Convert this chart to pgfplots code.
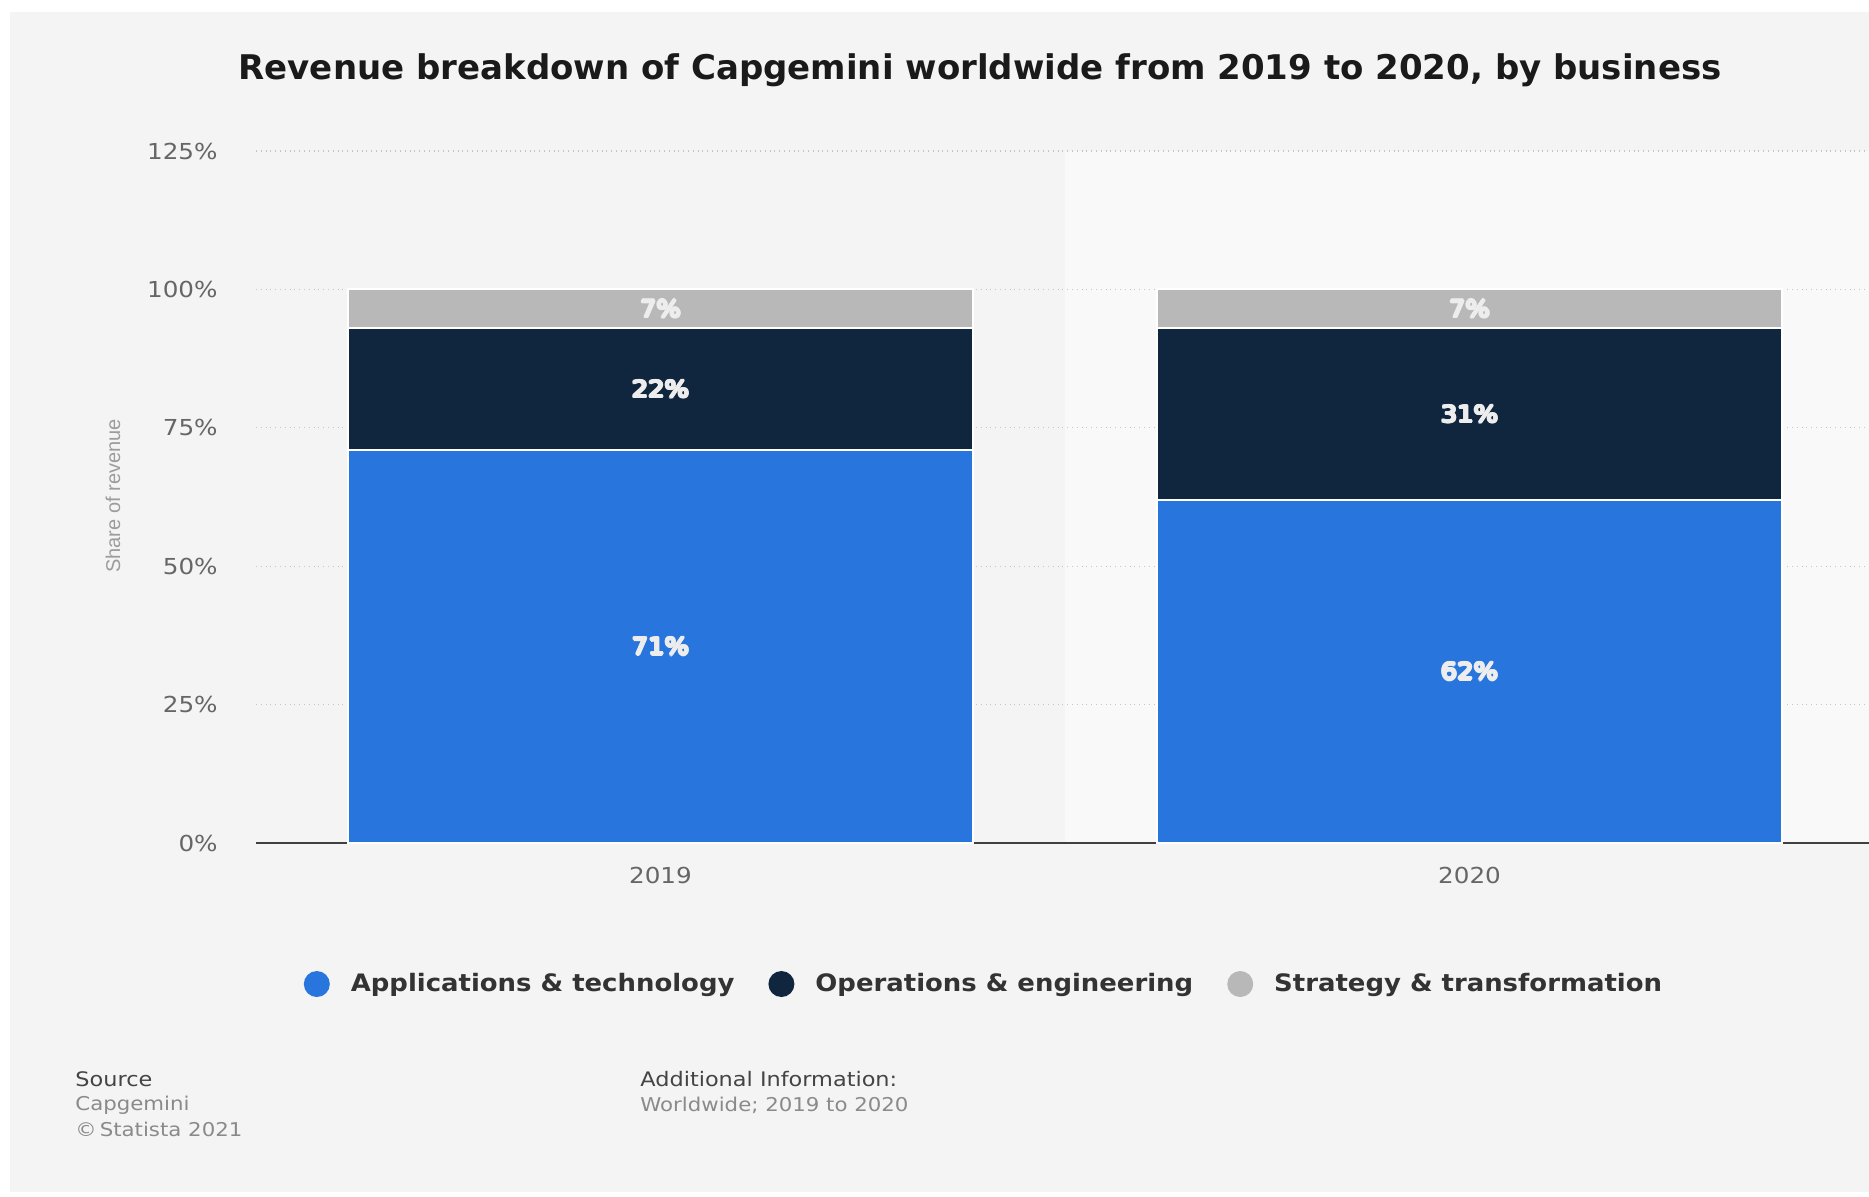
\documentclass[border=0pt]{standalone}
\usepackage{pgfplots}
\pgfplotsset{compat=1.18}
\usepackage{pgfplotstable}
\usepackage{fontspec}
\setmainfont{DejaVu Sans}
\newfontfamily\widefont[FakeStretch=1.12]{DejaVu Sans}
\newfontfamily\legfont[FakeStretch=1.08]{DejaVu Sans}
\newfontfamily\narrowfont{Liberation Sans}

\definecolor{halocol}{HTML}{1E1E1E}
\newsavebox\halobox
\newcommand\hcopy[2]{\rlap{\color{halocol}\kern#1\raisebox{#2}{\usebox\halobox}}}
\newcommand\halo[1]{\sbox\halobox{#1}%
  \hcopy{0.65pt}{0pt}\hcopy{-0.65pt}{0pt}\hcopy{0pt}{0.65pt}\hcopy{0pt}{-0.65pt}%
  \hcopy{0.45pt}{0.45pt}\hcopy{-0.45pt}{0.45pt}\hcopy{0.45pt}{-0.45pt}\hcopy{-0.45pt}{-0.45pt}%
  \usebox\halobox}

\definecolor{panel}{HTML}{F4F4F4}
\definecolor{band}{HTML}{F9F9F9}
\definecolor{appblue}{HTML}{2876DD}
\definecolor{opsnavy}{HTML}{10263F}
\definecolor{strgray}{HTML}{B8B8B8}
\definecolor{gridc}{HTML}{C4C4C4}
\definecolor{tickc}{HTML}{666666}
\definecolor{titlec}{HTML}{1A1A1A}
\definecolor{legc}{HTML}{333333}
\definecolor{headc}{HTML}{444444}
\definecolor{subc}{HTML}{8A8A8A}
\definecolor{labc}{HTML}{EDEDED}

\pgfplotstableread{
x app ops strat
0 71 22 7
1 62 31 7
}\datatable

\begin{document}
\begin{tikzpicture}
\useasboundingbox (0pt,0pt) rectangle (934.5pt,598pt);
\fill[white] (0pt,0pt) rectangle (934.5pt,598pt);
\fill[panel] (5pt,2pt) rectangle (940pt,592pt);
% lighter band behind the second category
\fill[band] (532.5pt,176.5pt) rectangle (940pt,522.5pt);

\node[font=\bfseries\fontsize{17}{20}\selectfont, text=titlec] at (490pt,563pt)
  {Revenue breakdown of Capgemini worldwide from 2019 to 2020, by business};

\node[rotate=90, font=\narrowfont\fontsize{10}{12}\selectfont, text=subc!85] at (56.5pt,350pt) {Share of revenue};

\begin{axis}[
  at={(128pt,176.5pt)}, anchor=south west,
  width=809pt, height=346pt, scale only axis,
  ybar stacked, bar width=0.773,
  xmin=-0.5, xmax=1.5, ymin=0, ymax=125,
  xtick={0,1}, xticklabels={2019,2020},
  ytick={0,25,50,75,100,125},
  yticklabels={0\%,25\%,50\%,75\%,100\%,125\%},
  major tick length=0pt,
  ymajorgrids, major grid style={gridc, dotted, line width=0.7pt},
  axis x line*=bottom, axis y line*=left,
  x axis line style={-, color=black!75, line width=0.9pt},
  y axis line style={draw=none},
  yticklabel style={font=\widefont\fontsize{11}{13}\selectfont, text=tickc, anchor=east, inner sep=0pt, xshift=-19pt},
  xticklabel style={font=\widefont\fontsize{11}{13}\selectfont, text=tickc, anchor=north, inner sep=0pt, yshift=-12pt},
  point meta=explicit symbolic,
  nodes near coords={\halo{\pgfplotspointmeta\%}},
  every node near coord/.append style={font=\widefont\fontsize{11.5}{13}\selectfont, text=labc, anchor=center, inner sep=0pt},
  legend style={at={(0.4493,-0.2038)}, anchor=center, draw=none, fill=none, legend columns=3,
    font=\legfont\bfseries\fontsize{12}{14}\selectfont, text=legc,
    /tikz/every odd column/.append style={column sep=10.5pt},
    /tikz/every even column/.append style={column sep=17pt},
    nodes={inner sep=0pt}},
  legend image code/.code={\fill[#1, draw=none] (0pt,0pt) circle (6.5pt);},
]
\addplot[fill=appblue, draw=white, line width=1pt] table[x=x, y=app, meta=app] {\datatable};
\addlegendentry{Applications \& technology}
\addplot[fill=opsnavy, draw=white, line width=1pt] table[x=x, y=ops, meta=ops] {\datatable};
\addlegendentry{Operations \& engineering}
\addplot[fill=strgray, draw=white, line width=1pt] table[x=x, y=strat, meta=strat] {\datatable};
\addlegendentry{Strategy \& transformation}
\end{axis}

\node[anchor=west, inner sep=0pt, font=\widefont\fontsize{10}{12}\selectfont, text=headc] at (37.5pt,58.5pt) {Source};
\node[anchor=west, inner sep=0pt, font=\widefont\fontsize{9.5}{12}\selectfont, text=subc] at (37.5pt,45.5pt) {Capgemini};
\node[anchor=west, inner sep=0pt, font=\widefont\fontsize{9.5}{12}\selectfont, text=subc] at (37.5pt,33.5pt) {\textcopyright\,Statista 2021};
\node[anchor=west, inner sep=0pt, font=\widefont\fontsize{10}{12}\selectfont, text=headc] at (320pt,58.5pt) {Additional Information:};
\node[anchor=west, inner sep=0pt, font=\widefont\fontsize{9.5}{12}\selectfont, text=subc] at (320pt,45.5pt) {Worldwide; 2019 to 2020};
\end{tikzpicture}
\end{document}
